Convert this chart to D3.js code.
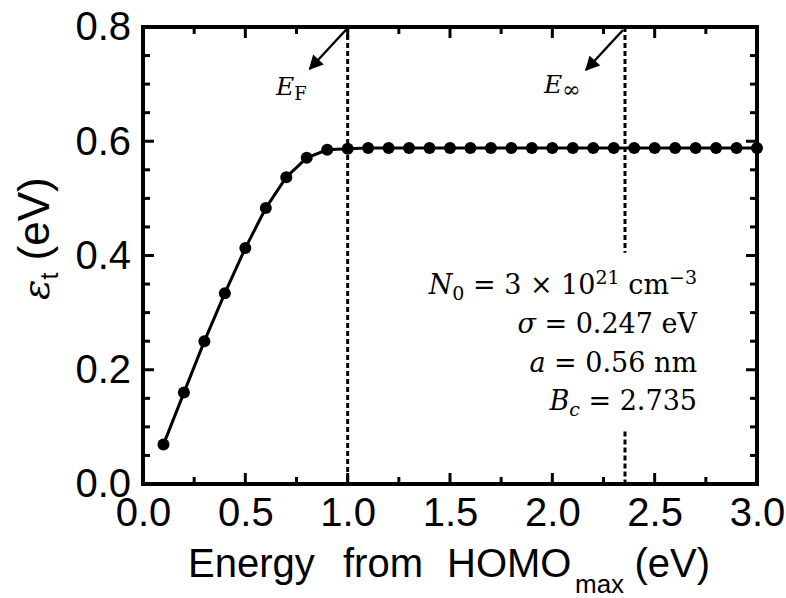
<!DOCTYPE html>
<html>
<head>
<meta charset="utf-8">
<script src="https://cdn.jsdelivr.net/npm/d3@7"></script>
<style>
  html, body { margin: 0; padding: 0; background: #fff; }
  svg { display: block; }
</style>
</head>
<body>
<svg id="chart" width="786" height="598"></svg>
<script>
// Energy from HOMO_max (eV) and transport energy (eV)
const energy = [0.1, 0.2, 0.3, 0.4, 0.5, 0.6, 0.7, 0.8, 0.9, 1.0,
                1.1, 1.2, 1.3, 1.4, 1.5, 1.6, 1.7, 1.8, 1.9, 2.0,
                2.1, 2.2, 2.3, 2.4, 2.5, 2.6, 2.7, 2.8, 2.9, 3.0];
const epsT = [0.069, 0.160, 0.250, 0.334, 0.413, 0.483, 0.537, 0.571, 0.585, 0.587,
              0.588, 0.588, 0.588, 0.588, 0.588, 0.588, 0.588, 0.588, 0.588, 0.588,
              0.588, 0.588, 0.588, 0.588, 0.588, 0.588, 0.588, 0.588, 0.588, 0.588];

const xTicks = [0.0, 0.5, 1.0, 1.5, 2.0, 2.5, 3.0];
const xMinor = [0.25, 0.75, 1.25, 1.75, 2.25, 2.75];
const yTicks = [0.0, 0.2, 0.4, 0.6, 0.8];
const yMinor = [0.05, 0.1, 0.15, 0.25, 0.3, 0.35, 0.45, 0.5, 0.55, 0.65, 0.7, 0.75];

const eFermi = 1.0;
const eInf = 2.355;

const svg = d3.select("#chart");
const m = { left: 143, right: 757, top: 27, bottom: 484 };

const x = d3.scaleLinear().domain([0, 3]).range([m.left, m.right]);
const y = d3.scaleLinear().domain([0, 0.8]).range([m.bottom, m.top]);

const sans = "'Liberation Sans', Arial, sans-serif";
const serif = "'DejaVu Serif', serif";
const majorLen = 11, minorLen = 7;

// tick labels through d3 axes
svg.append("g").attr("transform", `translate(0,${m.bottom})`)
  .call(d3.axisBottom(x).tickValues(xTicks).tickSize(0).tickFormat(d3.format(".1f")).tickPadding(14))
  .call(g => g.select(".domain").remove())
  .call(g => g.selectAll("text").attr("font-family", sans).attr("font-size", 40).attr("fill", "#000"));
svg.append("g").attr("transform", `translate(${m.left},0)`)
  .call(d3.axisLeft(y).tickValues(yTicks).tickSize(0).tickFormat(d3.format(".1f")).tickPadding(12))
  .call(g => g.select(".domain").remove())
  .call(g => g.selectAll("text").attr("font-family", sans).attr("font-size", 40).attr("fill", "#000"));

// reference energies as dashed verticals
const dash = "5,3";
function vDash(xv, y0, y1) {
  svg.append("line")
    .attr("x1", x(xv)).attr("x2", x(xv))
    .attr("y1", y(y0)).attr("y2", y(y1))
    .attr("stroke", "#000").attr("stroke-width", 3).attr("stroke-dasharray", dash);
}
vDash(eFermi, 0.8, 0);
vDash(eInf, 0.8, 0.405);
vDash(eInf, 0.092, 0);

// data curve
const pts = energy.map((e, i) => [e, epsT[i]]);
svg.append("path")
  .datum(pts)
  .attr("fill", "none").attr("stroke", "#000").attr("stroke-width", 3)
  .attr("d", d3.line().x(d => x(d[0])).y(d => y(d[1])));
svg.append("g").selectAll("circle")
  .data(pts).join("circle")
  .attr("cx", d => x(d[0])).attr("cy", d => y(d[1])).attr("r", 6).attr("fill", "#000");

// frame
svg.append("rect")
  .attr("x", m.left).attr("y", m.top)
  .attr("width", m.right - m.left).attr("height", m.bottom - m.top)
  .attr("fill", "none").attr("stroke", "#000").attr("stroke-width", 4);

// inward tick marks on all four sides
function xTickMarks(vals, len) {
  [[m.bottom, m.bottom - len], [m.top, m.top + len]].forEach(([a, b]) => {
    svg.append("g").selectAll("line").data(vals).join("line")
      .attr("x1", d => x(d)).attr("x2", d => x(d))
      .attr("y1", a).attr("y2", b)
      .attr("stroke", "#000").attr("stroke-width", 3);
  });
}
function yTickMarks(vals, len) {
  [[m.left, m.left + len], [m.right, m.right - len]].forEach(([a, b]) => {
    svg.append("g").selectAll("line").data(vals).join("line")
      .attr("y1", d => y(d)).attr("y2", d => y(d))
      .attr("x1", a).attr("x2", b)
      .attr("stroke", "#000").attr("stroke-width", 3);
  });
}
xTickMarks(xTicks, majorLen);
xTickMarks(xMinor, minorLen);
yTickMarks(yTicks, majorLen);
yTickMarks(yMinor, minorLen);

// arrows pointing to E_F and E_inf labels
svg.append("defs").append("marker")
  .attr("id", "head").attr("viewBox", "0 0 10 10")
  .attr("refX", 9).attr("refY", 5)
  .attr("markerWidth", 6.5).attr("markerHeight", 6)
  .attr("markerUnits", "strokeWidth")
  .attr("orient", "auto")
  .append("path").attr("d", "M0,0 L10,5 L0,10 Z").attr("fill", "#000");

function arrow(x1, y1, x2, y2) {
  svg.append("line")
    .attr("x1", x1).attr("y1", y1).attr("x2", x2).attr("y2", y2)
    .attr("stroke", "#000").attr("stroke-width", 2.4)
    .attr("marker-end", "url(#head)");
}
arrow(x(eFermi), y(0.8) + 1, x(eFermi) - 38, y(0.8) + 42);
arrow(x(eInf) - 2, y(0.8) + 3, x(eInf) - 39, y(0.8) + 43);

const ef = svg.append("text").attr("x", 276).attr("y", 95)
  .attr("font-family", serif).attr("font-size", 25).attr("fill", "#000");
ef.append("tspan").attr("font-style", "italic").text("E");
ef.append("tspan").attr("dy", 5).attr("font-size", 18).text("F");

const einf = svg.append("text").attr("x", 544).attr("y", 93)
  .attr("font-family", serif).attr("font-size", 25).attr("fill", "#000");
einf.append("tspan").attr("font-style", "italic").text("E");
einf.append("tspan").attr("dy", 4).attr("font-size", 22).text("∞");

// parameter box
const px = 697;
const fs = 27, fsSmall = 19;
const lines = svg.append("g").attr("font-family", serif).attr("font-size", fs).attr("fill", "#000")
  .attr("text-anchor", "end");

const l1 = lines.append("text").attr("x", px).attr("y", 294);
l1.append("tspan").attr("font-style", "italic").text("N");
l1.append("tspan").attr("dy", 6).attr("font-size", fsSmall).text("0");
l1.append("tspan").attr("dy", -6).text(" = 3 × 10");
l1.append("tspan").attr("dy", -10).attr("font-size", fsSmall).text("21");
l1.append("tspan").attr("dy", 10).text(" cm");
l1.append("tspan").attr("dy", -10).attr("font-size", fsSmall).text("−3");

const l2 = lines.append("text").attr("x", px).attr("y", 333);
l2.append("tspan").attr("font-style", "italic").text("σ");
l2.append("tspan").text(" = 0.247 eV");

const l3 = lines.append("text").attr("x", px).attr("y", 372);
l3.append("tspan").attr("font-style", "italic").text("a");
l3.append("tspan").text(" = 0.56 nm");

const l4 = lines.append("text").attr("x", px).attr("y", 410);
l4.append("tspan").attr("font-style", "italic").text("B");
l4.append("tspan").attr("dy", 6).attr("font-size", fsSmall).attr("font-style", "italic").text("c");
l4.append("tspan").attr("dy", -6).text(" = 2.735");

// x axis title, words spaced out along the axis
const xTitle = svg.append("g").attr("font-family", sans).attr("fill", "#000").attr("font-size", 40);
xTitle.append("text").attr("x", 188).attr("y", 577).text("Energy");
xTitle.append("text").attr("x", 343).attr("y", 577).text("from");
xTitle.append("text").attr("x", 447).attr("y", 577).text("HOMO");
xTitle.append("text").attr("x", 575).attr("y", 593).attr("font-size", 26).text("max");
xTitle.append("text").attr("x", 710).attr("y", 577).attr("text-anchor", "end").text("(eV)");

// y axis title
const yt = svg.append("text")
  .attr("transform", "translate(49,300) rotate(-90)")
  .attr("font-family", sans).attr("font-size", 44).attr("fill", "#000");
yt.append("tspan").attr("font-family", serif).attr("font-style", "italic").attr("font-size", 38).text("ε");
yt.append("tspan").attr("dy", 9).attr("font-size", 25).text("t");
yt.append("tspan").attr("dy", -9).text(" (eV)");
</script>
</body>
</html>
